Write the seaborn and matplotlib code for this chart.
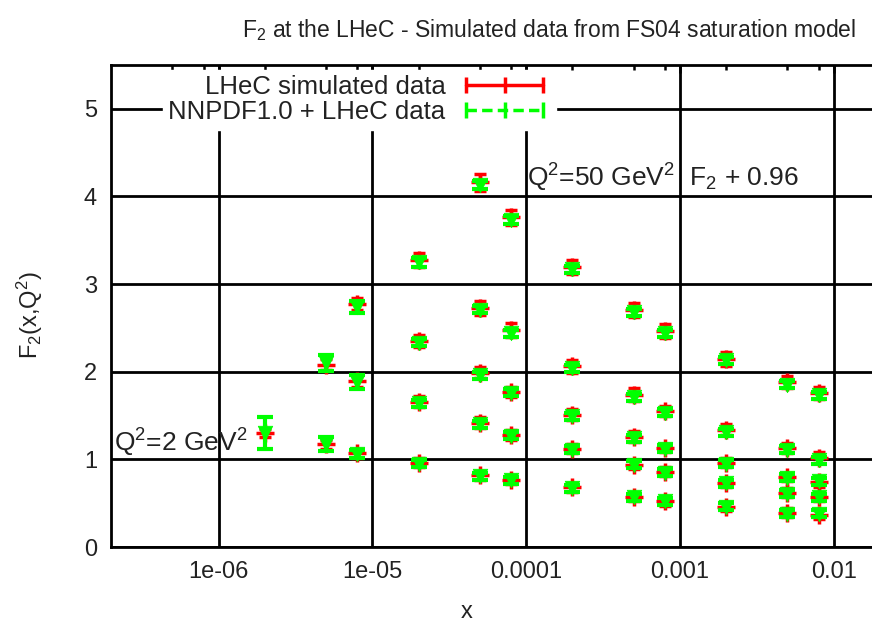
import numpy as np
import pandas as pd
import seaborn as sns
import matplotlib
matplotlib.use('Agg')
import matplotlib.pyplot as plt
from matplotlib.lines import Line2D
from matplotlib.ticker import FixedLocator, FixedFormatter, NullFormatter

# x bins and F2 values (one list per x column)
x_bins = [2e-6, 5e-6, 8e-6, 2e-5, 5e-5, 8e-5, 2e-4, 5e-4, 8e-4, 2e-3, 5e-3, 8e-3]

lhec_f2 = [
    [1.30],
    [2.08, 1.17],
    [2.77, 1.89, 1.07],
    [3.28, 2.35, 1.66, 0.96],
    [4.16, 2.73, 1.99, 1.42, 0.82],
    [3.76, 2.48, 1.77, 1.28, 0.77],
    [3.19, 2.06, 1.51, 1.12, 0.68],
    [2.70, 1.74, 1.26, 0.94, 0.57],
    [2.46, 1.55, 1.13, 0.86, 0.52],
    [2.15, 1.34, 0.96, 0.73, 0.46],
    [1.88, 1.13, 0.80, 0.62, 0.39],
    [1.76, 1.02, 0.74, 0.57, 0.37],
]
lhec_err = [
    [0.05],
    [0.06, 0.05],
    [0.07, 0.06, 0.05],
    [0.08, 0.07, 0.06, 0.05],
    [0.10, 0.08, 0.06, 0.06, 0.05],
    [0.09, 0.08, 0.06, 0.06, 0.05],
    [0.08, 0.07, 0.06, 0.05, 0.05],
    [0.08, 0.07, 0.06, 0.05, 0.05],
    [0.08, 0.06, 0.05, 0.05, 0.05],
    [0.08, 0.06, 0.05, 0.05, 0.05],
    [0.07, 0.06, 0.05, 0.05, 0.05],
    [0.07, 0.06, 0.05, 0.05, 0.05],
]

nnpdf_f2 = [
    [1.30],
    [2.10, 1.17],
    [2.74, 1.88, 1.06],
    [3.25, 2.33, 1.64, 0.95],
    [4.13, 2.71, 1.96, 1.40, 0.81],
    [3.73, 2.44, 1.76, 1.27, 0.76],
    [3.17, 2.04, 1.49, 1.11, 0.67],
    [2.68, 1.71, 1.24, 0.94, 0.57],
    [2.44, 1.53, 1.12, 0.85, 0.52],
    [2.13, 1.31, 0.95, 0.73, 0.46],
    [1.85, 1.11, 0.79, 0.61, 0.38],
    [1.73, 0.99, 0.75, 0.57, 0.38],
]
nnpdf_err = [
    [0.18],
    [0.09, 0.08],
    [0.07, 0.08, 0.05],
    [0.05, 0.04, 0.04, 0.04],
    [0.05, 0.04, 0.04, 0.04, 0.04],
    [0.05, 0.04, 0.04, 0.04, 0.04],
    [0.04, 0.04, 0.04, 0.04, 0.04],
    [0.04, 0.04, 0.04, 0.04, 0.04],
    [0.04, 0.04, 0.04, 0.04, 0.04],
    [0.04, 0.04, 0.04, 0.04, 0.04],
    [0.04, 0.04, 0.04, 0.04, 0.04],
    [0.04, 0.04, 0.04, 0.04, 0.04],
]

major_x = [1e-6, 1e-5, 1e-4, 1e-3, 1e-2]
major_x_labels = ['1e-06', '1e-05', '0.0001', '0.001', '0.01']
minor_x = [5e-7, 8e-7, 2e-6, 5e-6, 8e-6, 2e-5, 5e-5, 8e-5,
           2e-4, 5e-4, 8e-4, 2e-3, 5e-3, 8e-3]
y_ticks = [0, 1, 2, 3, 4, 5]


def to_frame(vals, errs):
    rows = []
    for x, col, ecol in zip(x_bins, vals, errs):
        for v, e in zip(col, ecol):
            rows.append({'x': x, 'f2': v, 'err': e})
    return pd.DataFrame(rows)


lhec = to_frame(lhec_f2, lhec_err)
nnpdf = to_frame(nnpdf_f2, nnpdf_err)

sns.set_theme(style='white')
plt.rcParams['font.family'] = ['Liberation Sans', 'DejaVu Sans']
plt.rcParams['mathtext.fontset'] = 'custom'
plt.rcParams['mathtext.rm'] = 'Liberation Sans'
plt.rcParams['mathtext.default'] = 'rm'

RED = '#ff0000'
GREEN = '#00ff00'
TXT = '#222222'

fig = plt.figure(figsize=(8.72, 6.25), dpi=100)
ax = fig.add_axes([111 / 872, 1 - 547 / 625, 769 / 872, 482 / 625])
ax.set_xscale('log')

# red: LHeC simulated data
ax.errorbar(lhec['x'], lhec['f2'], yerr=lhec['err'], fmt='none',
            ecolor=RED, elinewidth=2.5, capsize=4, capthick=2.5, zorder=3)
sns.scatterplot(data=lhec, x='x', y='f2', ax=ax, marker='+', s=150,
                color=RED, linewidth=2.5, zorder=4, legend=False)
# green: NNPDF1.0 + LHeC
ax.errorbar(nnpdf['x'], nnpdf['f2'], yerr=nnpdf['err'], fmt='none',
            ecolor=GREEN, elinewidth=3, capsize=6, capthick=3, zorder=5)
sns.scatterplot(data=nnpdf, x='x', y='f2', ax=ax, marker='v', s=110,
                color=GREEN, edgecolor=GREEN, linewidth=0.5, zorder=6, legend=False)

ax.set_xlim(2e-7, 2e-2)
ax.set_ylim(0, 5.5)
ax.xaxis.set_major_locator(FixedLocator(major_x))
ax.xaxis.set_major_formatter(FixedFormatter(major_x_labels))
ax.xaxis.set_minor_locator(FixedLocator(minor_x))
ax.xaxis.set_minor_formatter(NullFormatter())
ax.set_yticks(y_ticks)

ax.grid(True, which='major', color='black', lw=2)
ax.set_axisbelow(True)
for sp in ax.spines.values():
    sp.set_color('black')
    sp.set_linewidth(2)
ax.tick_params(which='both', direction='in', top=True, right=True,
               color='black', width=1.8, labelsize=17, labelcolor=TXT)
ax.tick_params(which='major', length=6, pad=10)
ax.tick_params(which='minor', length=3.5)

ax.set_xlabel('x', fontsize=17, color=TXT, va='center')
ax.xaxis.set_label_coords((467 - 111) / 769, (547 - 612) / 482)
ax.set_ylabel('F$_2$(x,Q$^2$)', fontsize=17, color=TXT, va='center')
ax.yaxis.set_label_coords((30 - 111) / 769, (547 - 315) / 482)

ax.text(2.1e-7, 1.09, 'Q$^2$=2 GeV$^2$', fontsize=19, va='baseline',
        color=TXT, zorder=7)
ax.text(1.02e-4, 4.11, 'Q$^2$=50 GeV$^2$  F$_2$ + 0.96', fontsize=19,
        va='baseline', color=TXT, zorder=7)

fig.text(549 / 872, 1 - 30 / 625,
         'F$_2$ at the LHeC - Simulated data from FS04 saturation model',
         ha='center', va='center', fontsize=16.5, color=TXT)

h_red = Line2D([], [], color=RED, lw=2.5, marker='|', ms=11, mew=2.5)
h_green = Line2D([], [], color=GREEN, lw=2.5, ls=(0, (3, 1.5)),
                 marker='|', ms=11, mew=2.5)
leg = ax.legend([h_red, h_green], ['LHeC simulated data', 'NNPDF1.0 + LHeC data'],
                loc='upper right', bbox_to_anchor=(556 / 872, 1 - 70 / 625),
                bbox_transform=fig.transFigure, markerfirst=False, numpoints=3,
                fontsize=18.5, handlelength=3.6, handletextpad=0.5,
                labelspacing=0.05, borderpad=0.2, borderaxespad=0,
                frameon=True, fancybox=False, framealpha=1,
                facecolor='white', edgecolor='white')
leg.set_zorder(10)
for t in leg.get_texts():
    t.set_color(TXT)

fig.savefig('out.png', dpi=100)
